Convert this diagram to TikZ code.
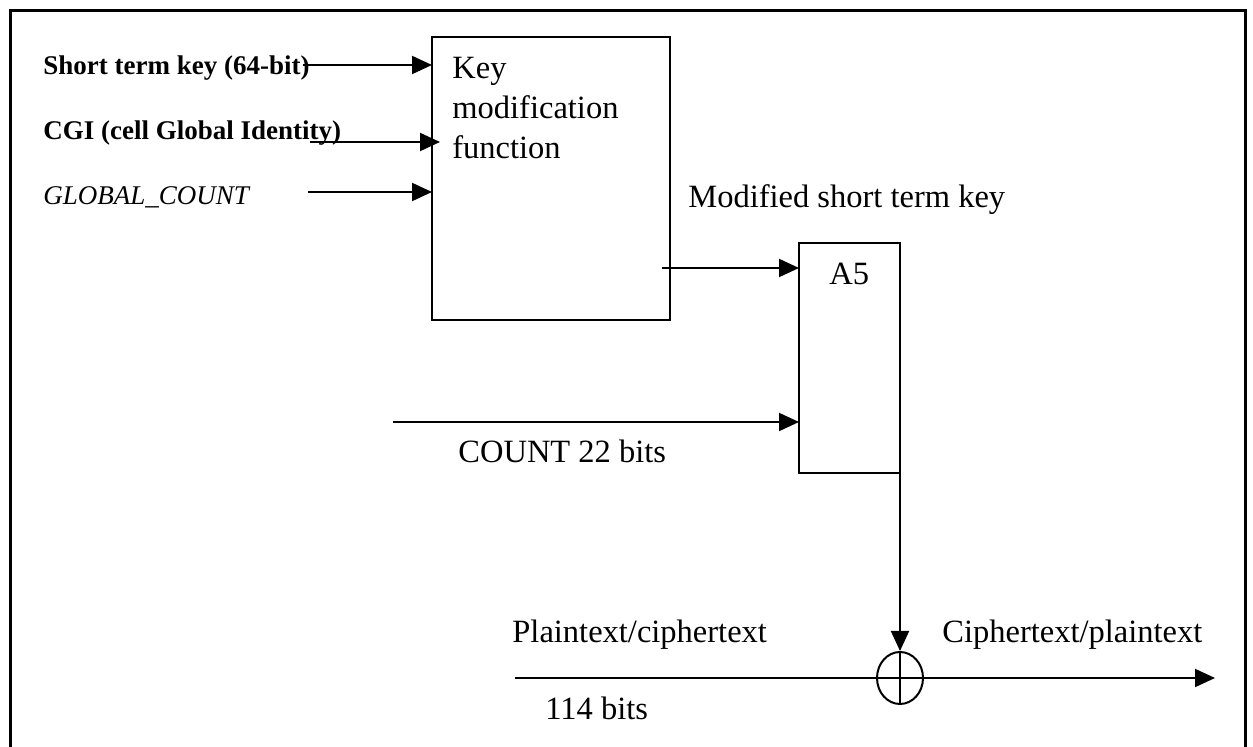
\documentclass[tikz,border=0pt]{standalone}
\usepackage{fontspec}
\setmainfont{Liberation Serif}
\usetikzlibrary{arrows.meta,positioning,shapes.geometric}

\begin{document}
\begin{tikzpicture}[
			x=0.5pt, y=-0.5pt,
			box/.style={
				draw,
				line width=1pt,
				inner sep=0pt,
				outer sep=0pt,
				anchor=north west
			},
			lbl/.style={anchor=base west, inner sep=0pt, font=\fontsize{16.25}{20}\selectfont},
			inlbl/.style={anchor=base west, inner sep=0pt, font=\fontsize{13.5}{16}\selectfont},
			arrow/.style={-{Triangle[length=10pt,width=9pt]},line width=1pt},
			line/.style={line width=1pt},
			frame/.style={line width=1.5pt}
			]
			
			\useasboundingbox (0,0) rectangle (1253,747);
			\draw[frame] (10,747) -- (10,11) -- (1245,11) -- (1245,747);
			
			% key modification block
			\node[box,minimum width=119pt,minimum height=141.5pt] (keymod) at (432,37) {};
			\node[lbl,anchor=north west,align=left] (keytxt) at (452,56.5) {Key\\modification\\function};
			
			% inputs
			\node[inlbl] (skey) at (43,75) {\bfseries Short term key (64-bit)};
			\node[inlbl] (cgi) at (43,140) {\bfseries CGI (cell Global Identity)};
			\node[inlbl] (gcount) at (43,205) {\itshape GLOBAL\_COUNT};
			
			\coordinate (skey-out) at (303,65);
			\coordinate (cgi-out) at (310,142);
			\coordinate (gcount-out) at (308,192);
			
			\draw[arrow] (skey-out)--(keymod.west |- skey-out);
			\draw[arrow] (cgi-out)--([xshift=4pt]keymod.west |- cgi-out);
			\draw[arrow] (gcount-out)--(keymod.west |- gcount-out);
			
			% A5 block
			\node[box,minimum width=50.5pt,minimum height=115pt] (afive) at (799,243) {};
			\node[lbl] (afivetxt) at (829,285) {A5};
			\node[lbl] (modkey) at (688,208) {Modified short term key};
			
			\coordinate (keymod-out) at (662,268);
			\draw[arrow] (keymod-out)--(afive.west |- keymod-out);
			
			\coordinate (count-in) at (393,422);
			\draw[arrow] (count-in)--(afive.west |- count-in);
			\node[lbl] (count) at (458,463) {COUNT 22 bits};
			
			% xor
			\coordinate (pt-in) at (515,678);
			\coordinate (ct-out) at (1215,678);
			\node[draw,ellipse,line width=1pt,minimum width=23pt,minimum height=26pt,inner sep=0pt] (xor) at (afive.east |- pt-in) {};
			\draw[line] (xor.north)--(xor.south);
			\draw[arrow] (afive.south east)--(xor.north);
			
			\draw[line] (pt-in)--(xor.west);
			\draw[line] (xor.west)--(xor.east);
			\draw[arrow] (xor.east)--(ct-out);
			
			\node[lbl] (ptxt) at (512,643) {Plaintext/ciphertext};
			\node[lbl] (bits) at (545,720) {114 bits};
			\node[lbl] (ctxt) at (942,643) {Ciphertext/plaintext};
			
		\end{tikzpicture}
\end{document}
